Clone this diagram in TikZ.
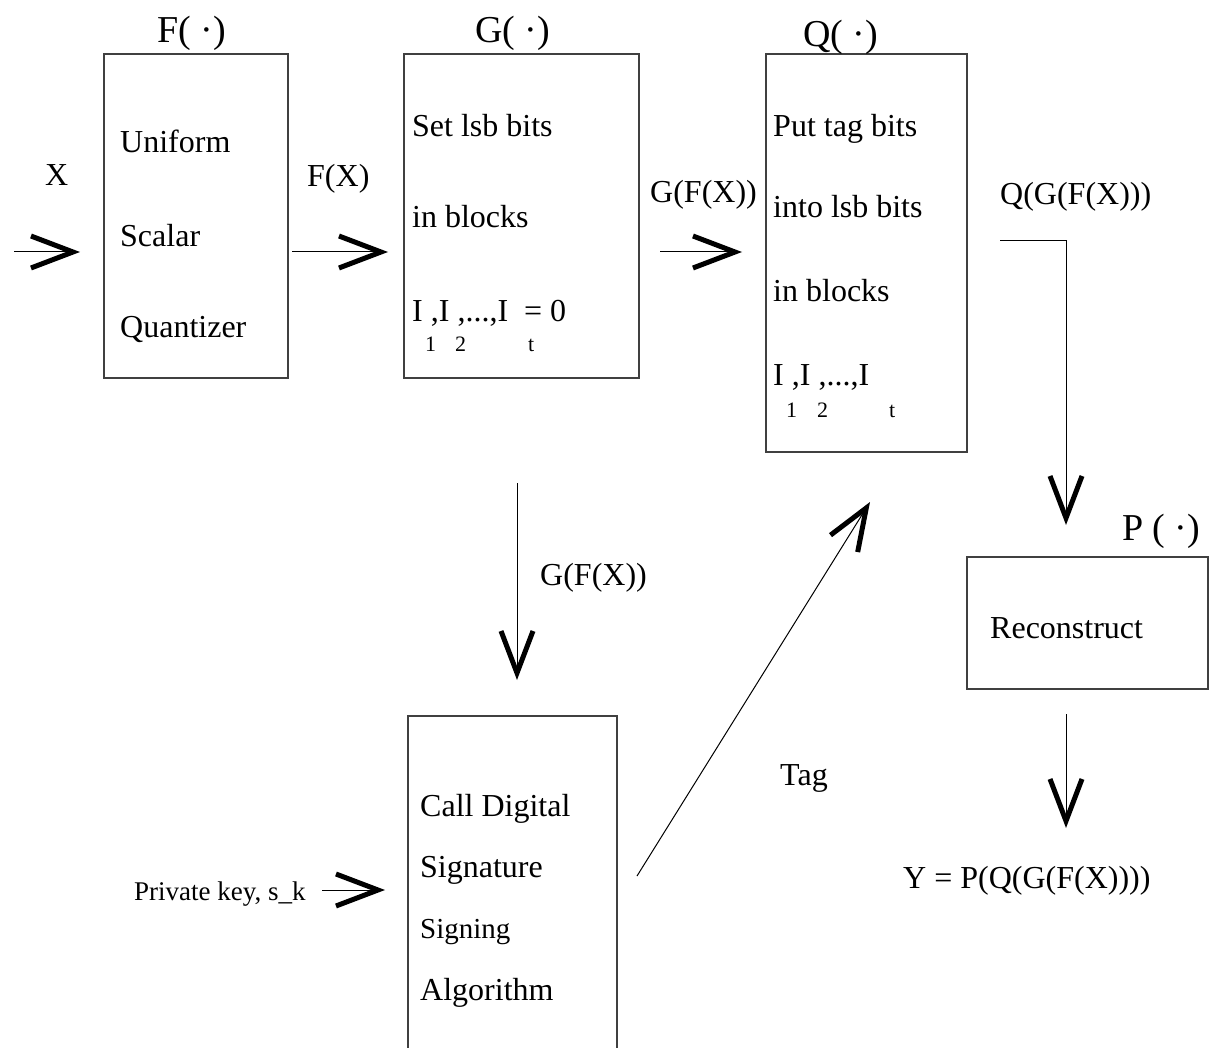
\documentclass[tikz,border=0pt]{standalone}
\usepackage{fontspec}
\setmainfont{Liberation Serif}
\usetikzlibrary{arrows.meta, positioning}

\tikzset{
  blok/.style={draw=black!75, line width=1.2pt, inner sep=0pt},
  txt/.style={anchor=base west, inner sep=0pt, font=\fontsize{32}{38}\selectfont},
  ttl/.style={anchor=base west, inner sep=0pt, font=\fontsize{38}{44}\selectfont},
  sub/.style={anchor=base west, inner sep=0pt, font=\fontsize{22}{26}\selectfont},
  flow/.style={line width=1pt, -{Straight Barb[length=42pt, width=32pt, line width=5pt]}},
}

\begin{document}
\begin{tikzpicture}[x=1pt, y=-1pt]
    \useasboundingbox (0,0) rectangle (1215,1048);

    % Blokken
    \node[blok, minimum width=184pt, minimum height=324pt] (quant) at (196,216) {};
    \node[blok, minimum width=235pt, minimum height=324pt] (setlsb) at (521.5,216) {};
    \node[blok, minimum width=201pt, minimum height=398pt] (puttag) at (866.5,253) {};
    \node[blok, minimum width=241pt, minimum height=132pt] (recon) at (1087.5,623) {};
    \node[blok, minimum width=209pt, minimum height=336pt] (sign) at (512.5,884) {};

    % Titels
    \node[ttl] (tF) at (157,43) {F( ·)};
    \node[ttl] (tG) at (475,43) {G( ·)};
    \node[ttl] (tQ) at (803,47) {Q( ·)};
    \node[ttl] (tP) at (1122,540) {P ( ·)};

    % Tekst in de blokken
    \node[txt] (q1) at (120,153) {Uniform};
    \node[txt] (q2) at (120,247) {Scalar};
    \node[txt] (q3) at (120,338) {Quantizer};

    \node[txt] (s1) at (412,137) {Set lsb bits};
    \node[txt] (s2) at (412,228) {in blocks};
    \node[txt] (s3) at (412,322) {I ,I ,...,I\ \ = 0};
    \node[sub] (s31) at (425,352) {1};
    \node[sub] (s32) at (455,352) {2};
    \node[sub] (s3t) at (528,352) {t};

    \node[txt] (p1) at (773,137) {Put tag bits};
    \node[txt] (p2) at (773,218) {into lsb bits};
    \node[txt] (p3) at (773,302) {in blocks};
    \node[txt] (p4) at (773,385) {I ,I ,...,I};
    \node[sub] (p41) at (786,417) {1};
    \node[sub] (p42) at (817,417) {2};
    \node[sub] (p4t) at (889,417) {t};

    \node[txt] (r1) at (990,638) {Reconstruct};

    \node[txt] (d1) at (420,816) {Call Digital};
    \node[txt] (d2) at (420,877) {Signature};
    \node[txt, font=\fontsize{29}{34}\selectfont] (d3) at (420,938) {Signing};
    \node[txt] (d4) at (420,1000) {Algorithm};

    % Signalen
    \node[txt] (lX) at (45,186) {X};
    \node[txt] (lFX) at (307,187) {F(X)};
    \node[txt] (lGFX) at (650,203) {G(F(X))};
    \node[txt] (lQGFX) at (1000,205) {Q(G(F(X)))};
    \node[txt] (lGdown) at (540,585) {G(F(X))};
    \node[txt] (lTag) at (780,785) {Tag};
    \node[txt] (lY) at (903,888) {Y = P(Q(G(F(X))))};
    \node[txt, font=\fontsize{27}{32}\selectfont] (lkey) at (134,900) {Private key, s\_k};

    % Pijlen
    \coordinate (xin) at (14,252);    \coordinate (xend) at (80,252);
    \coordinate (fout) at (292,252);  \coordinate (gin) at (388,252);
    \coordinate (gout) at (660,252);  \coordinate (qin) at (742,252);
    \coordinate (qout) at (1000,241); \coordinate (pin) at (1066,525);
    \coordinate (gdown) at (517,483); \coordinate (sin) at (517,680);
    \coordinate (kout) at (322,890);  \coordinate (kin) at (385,890);
    \coordinate (sout) at (637,876);  \coordinate (tagin) at (870,502);
    \coordinate (pout) at (1066,714); \coordinate (yin) at (1066,828);

    \draw[flow] (xin) -- (xend);
    \draw[flow] (fout) -- (gin);
    \draw[flow] (gout) -- (qin);
    \draw[flow] (qout) -| (pin);
    \draw[flow] (gdown) -- (sin);
    \draw[flow] (kout) -- (kin);
    \draw[flow] (sout) -- (tagin);
    \draw[flow] (pout) -- (yin);
\end{tikzpicture}
\end{document}
